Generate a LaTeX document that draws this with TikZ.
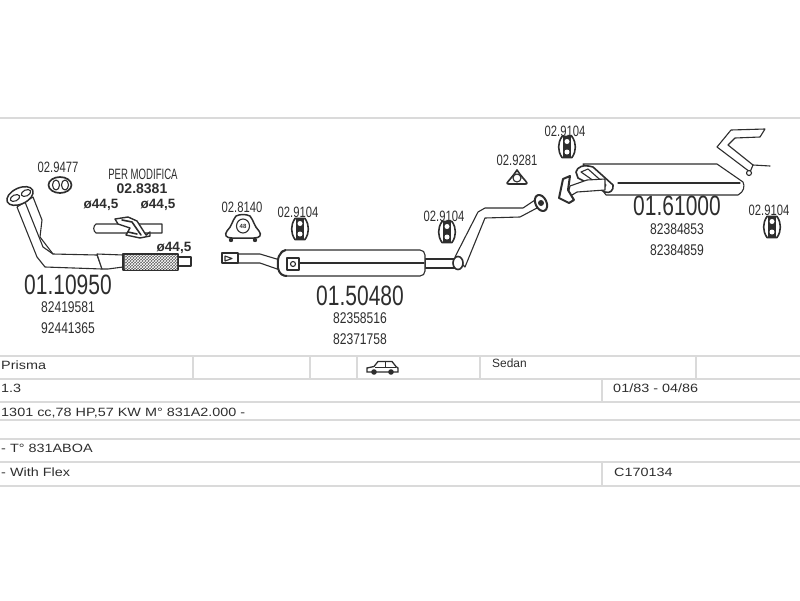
\documentclass[tikz,border=0pt]{standalone}
\usepackage{fontspec}
\setmainfont{Liberation Sans}
\usetikzlibrary{positioning,calc,patterns}
\definecolor{inkgrey}{HTML}{2E2E2E}
\definecolor{rulegrey}{HTML}{DADADA}
\tikzset{
	tube/.style={draw=inkgrey, line width=1.1pt, fill=white, line join=round},
	tubeline/.style={draw=inkgrey, line width=1.1pt, line join=round, line cap=round},
	rowrule/.style={draw=rulegrey, line width=1.6pt},
	partlabel/.style={text=inkgrey, font=\fontsize{15}{15}\selectfont, xscale=.75, transform shape, inner sep=0pt},
	bignum/.style={text=inkgrey, font=\fontsize{28}{28}\selectfont, xscale=.75, transform shape, inner sep=0pt},
	oenum/.style={text=inkgrey, font=\fontsize{15.5}{15.5}\selectfont, xscale=.78, transform shape, inner sep=0pt},
	sizelabel/.style={text=inkgrey, font=\bfseries\fontsize{13.5}{13.5}\selectfont, inner sep=0pt},
	rowtext/.style={text=inkgrey, font=\fontsize{12}{12}\selectfont, xscale=1.2, transform shape, anchor=west, inner sep=0pt},
	rubber/.pic={
		\draw[tube, line width=1.6pt] (-5,-10.5) .. controls (-9.5,-4) and (-9.5,4) .. (-5,10.5)
			-- (5,10.5) .. controls (9.5,4) and (9.5,-4) .. (5,-10.5) -- cycle;
		\fill[inkgrey] (-4,-10) rectangle (4,10);
		\fill[white] (0,-5.5) circle (2.5);
		\fill[white] (0,5) circle (2.5);
		\fill[white] (-7,-1) rectangle (-4,1);
	}
}
\begin{document}
\begin{tikzpicture}[x=1pt,y=-1pt]
	\useasboundingbox (0,0) rectangle (800,600);

	% table rules
	\foreach \ypos in {118,356,379,402,420,439,462,486}
		\draw[rowrule] (0,\ypos) -- (800,\ypos);
	\foreach \xpos in {193,310,357,480,696}
		\draw[rowrule] (\xpos,356) -- (\xpos,379);
	\draw[rowrule] (602,379) -- (602,402);
	\draw[rowrule] (602,462) -- (602,486);

	% table texts
	\node[rowtext] (model) at (1,365) {Prisma};
	\node[rowtext, xscale=.83] (body) at (492,363) {Sedan};
	\node[rowtext] (engine) at (1,388) {1.3};
	\node[rowtext] (years) at (613,388) {01/83 - 04/86};
	\node[rowtext] (power) at (1,413) {1301 cc,78 HP,57 KW M° 831A2.000 -};
	\node[rowtext] (gearbox) at (1,448) {- T° 831ABOA};
	\node[rowtext] (flex) at (1,472) {- With Flex};
	\node[rowtext] (code) at (614,472) {C170134};

	% car icon
	\draw[inkgrey, fill=white, line width=1.3pt] (367,372) -- (367,368) -- (374,366.5) -- (378,361.5) -- (392,361.5) -- (396,366.5) -- (398,368) -- (398,372) -- cycle;
	\draw[inkgrey, line width=.8pt] (385,361.5) -- (385,367) (375,367) -- (396,367);
	\fill[inkgrey] (374,372) circle (2.8) (391,372) circle (2.8);

	% front pipe
	\draw[tube] (97,255) -- (53,254) -- (40,237) -- (42,220) -- (33,197) -- (17,207) -- (37,257) -- (45,267) -- (102,269) -- cycle;
	\draw[tubeline] (25,202) -- (43,247) -- (53,254);
	\draw[tube] (97,254) -- (123,255) -- (123,267) -- (108,269) -- (102,269) -- cycle;
	\draw[tube, line width=1.5pt] (20,196) ellipse [x radius=14, y radius=8, rotate=25];
	\draw[tube] (15,198) ellipse [x radius=5, y radius=3, rotate=25];
	\draw[tube] (26,193) ellipse [x radius=5, y radius=3, rotate=25];
	\draw[tube] (178,257) rectangle (191,266);
	\draw[tube, fill=black!62] (123,254) rectangle (178,270);
	\fill[pattern=crosshatch, pattern color=white] (125,255) rectangle (177,269);
	\node[bignum] (frontnum) at (68,285) {01.10950};
	\node[oenum] (frontoea) at (68,307) {82419581};
	\node[oenum] (frontoeb) at (68,328) {92441365};
	\node[sizelabel] (sizec) at (174,248) {ø44,5};

	% gasket
	\node[partlabel] (gasketlabel) at (58,167) {02.9477};
	\draw[tube, line width=1.7pt] (60,185) ellipse [x radius=11.5, y radius=8];
	\draw[tube] (56,185) ellipse [x radius=3.5, y radius=5];
	\draw[tube] (65,185) ellipse [x radius=3.5, y radius=5];

	% modification pipe
	\node[partlabel, xscale=.853] (permodifica) at (143,174) {PER MODIFICA};
	\node[text=inkgrey, font=\bfseries\fontsize{14}{14}\selectfont, inner sep=0pt] (modnum) at (142,189) {02.8381};
	\node[sizelabel] (sizea) at (101,205) {ø44,5};
	\node[sizelabel] (sizeb) at (158,205) {ø44,5};
	\draw[tube] (96,224) -- (162,224) -- (162,233) -- (96,233) .. controls (93,231) and (93,226) .. (96,224) -- cycle;
	\draw[tube, line width=1.4pt] (115,219) -- (128,217) -- (137,221) -- (146,235) -- (150,232) -- (150,236) -- (140,238) -- (126,235) -- (130,228) -- (118,224) -- cycle;
	\draw[tubeline, line width=1.6pt] (122,220) -- (132,222) -- (141,235) (128,232) -- (137,234);

	% clamp
	\node[partlabel] (clamplabel) at (242,207) {02.8140};
	\draw[tube, line width=1.5pt] (236,216) .. controls (240,214) and (246,214) .. (250,216) .. controls (254,221) and (254,226) .. (259,231) .. controls (262,235) and (260,238) .. (254,238) -- (232,238) .. controls (226,238) and (224,235) .. (227,231) .. controls (232,226) and (232,221) .. (236,216) -- cycle;
	\draw[tube] (243,226) ellipse [x radius=6.5, y radius=7];
	\node[text=inkgrey, font=\bfseries\fontsize{6}{6}\selectfont, inner sep=0pt] (clampsize) at (243,226) {48};
	\fill[inkgrey] (231,240) circle (2.2) (255,240) circle (2.2);

	% middle muffler
	\node[partlabel] (hangerlabela) at (298,212) {02.9104};
	\pic at (300,229) {rubber};
	\node[partlabel] (hangerlabelb) at (444,216) {02.9104};
	\pic at (447,232) {rubber};
	\draw[tube] (238,254) -- (260,254) -- (280,260) -- (280,270) -- (260,263) -- (238,263) -- cycle;
	\draw[tube] (222,253) rectangle (238,263);
	\draw[tubeline] (225,256) -- (225,261) -- (232,258.5) -- cycle;
	\draw[tube] (425,259) rectangle (455,268);
	\draw[tube, rounded corners=5pt] (280,250) rectangle (425,276);
	\draw[tubeline] (292,263) -- (424,263);
	\draw[tube, line width=2pt] (286,250) .. controls (279,252) and (277,258) .. (278,268) .. controls (279,274) and (283,276) .. (287,276);
	\draw[tube, line width=1.4pt] (287,258) -- (299,258) -- (299,270) -- (287,270) -- cycle;
	\draw[tube] (293,264) circle (2.5);
	\node[bignum] (middlenum) at (360,296) {01.50480};
	\node[oenum] (middleoea) at (360,318) {82358516};
	\node[oenum] (middleoeb) at (360,339) {82371758};

	% link pipe
	\draw[tube] (455,257) -- (478,212) -- (485,208) -- (523,208) -- (535,200) -- (537,208) -- (520,217) -- (485,218) -- (465,267) -- cycle;
	\draw[tube, line width=1.6pt] (458,263) ellipse [x radius=5, y radius=6.5];
	\draw[tube, line width=2pt] (541,203) ellipse [x radius=5.5, y radius=8.5, rotate=25];
	\fill[inkgrey] (541,203) circle (3);
	\node[partlabel] (trianglelabel) at (517,160) {02.9281};
	\draw[tube, line width=1.6pt] (517,170) .. controls (520,175) and (526,181) .. (527,183) .. controls (527,184) and (526,184) .. (525,184) -- (509,184) .. controls (508,184) and (507,184) .. (507,183) .. controls (509,180) and (514,175) .. (517,170) -- cycle;
	\draw[tube] (517,178) circle (4);

	% rear muffler
	\node[partlabel] (hangerlabelc) at (565,131) {02.9104};
	\pic at (567,147) {rubber};
	\node[partlabel] (hangerlabeld) at (769,210) {02.9104};
	\pic at (772,227) {rubber};
	\draw[tube] (750,172) -- (717,147) -- (731,130) -- (765,129) -- (760,137) -- (735,138) -- (728,145) -- (753,165) -- cycle;
	\draw[tubeline] (753,165) -- (770,166);
	\draw[tube] (749,173) circle (2.5);
	\draw[tube] (583,164) -- (717,164) -- (743,182) .. controls (745,186) and (744,192) .. (738,195) -- (606,195) -- cycle;
	\draw[tubeline] (618,183) -- (740,183);
	\draw[tube, line width=1.6pt] (576,172) .. controls (577,167) and (583,164) .. (593,167) -- (613,185) .. controls (614,190) and (610,194) .. (605,192) -- (578,178) -- cycle;
	\draw[tube] (581,172) -- (588,169) -- (606,185) -- (604,188) -- cycle;
	\draw[tube] (570,186) -- (587,180) -- (605,179) -- (605,190) -- (577,192) -- (567,198) -- cycle;
	\draw[tube, line width=2pt] (563,179) -- (570,176) -- (568,190) -- (574,200) -- (569,203) -- (559,198) -- cycle;
	\node[bignum] (rearnum) at (677,206) {01.61000};
	\node[oenum] (rearoea) at (677,229) {82384853};
	\node[oenum] (rearoeb) at (677,250) {82384859};
\end{tikzpicture}
\end{document}
